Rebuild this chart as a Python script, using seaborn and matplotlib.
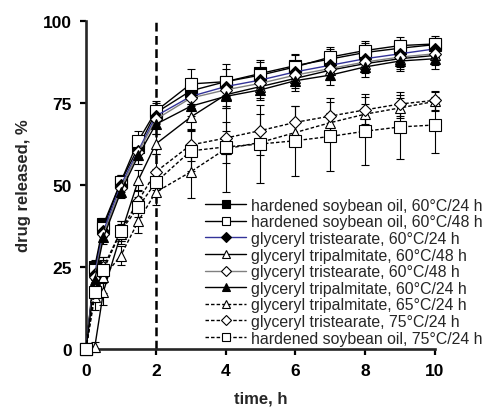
"""Drug release profiles of lipid matrices cured at different temperatures/times."""

import matplotlib
matplotlib.use("Agg")
import matplotlib.pyplot as plt
import numpy as np
import pandas as pd
import seaborn as sns

# ── data ──────────────────────────────────────────────────────────────────
time_h = [0, 0.25, 0.5, 1, 1.5, 2, 3, 4, 5, 6, 7, 8, 9, 10]

labels = [
    "hardened soybean oil, 60°C/24 h",
    "hardened soybean oil, 60°C/48 h",
    "glyceryl tristearate, 60°C/24 h",
    "glyceryl tripalmitate, 60°C/48 h",
    "glyceryl tristearate, 60°C/48 h",
    "glyceryl tripalmitate, 60°C/24 h",
    "glyceryl tripalmitate, 65°C/24 h",
    "glyceryl tristearate, 75°C/24 h",
    "hardened soybean oil, 75°C/24 h",
]

hso_60_24 = [0, 25, 38, 51, 61.5, 72, 78.7, 81.5, 84, 86.4, 88.4, 90.4, 91.7, 92.8]
hso_60_48 = [0, 24, 37, 51, 63.5, 72.5, 80.8, 81.5, 83.5, 86, 89, 91, 92.5, 93]
gts_60_24 = [0, 23, 36, 50, 60.5, 71, 77, 80, 82, 84.5, 86.5, 88.5, 90, 91.5]
gtp_60_48 = [0, 0.5, 17.5, 35, 51.5, 62.5, 70.7, 77.5, 80, 82.5, 85, 87, 88.5, 89.5]
gts_60_48 = [0, 22, 35, 49, 60, 70, 76.5, 79, 81, 83.5, 85.5, 87.5, 89, 90]
gtp_60_24 = [0, 21, 34, 48, 59, 68.5, 74, 77, 79, 81.8, 83.5, 86, 87.8, 88.5]
gtp_65_24 = [0, 16, 22, 28.5, 39, 47.8, 54, 61, 63, 66, 69, 71.6, 73.5, 75.5]
gts_75_24 = [0, 18, 25, 36, 45.2, 54, 62.2, 64.3, 66.6, 69.1, 71, 72.9, 74.7, 75.8]
hso_75_24 = [0, 17.5, 24, 36, 43.3, 50.8, 60.4, 61.6, 62.5, 63.5, 64.8, 66.4, 67.7, 68.3]

sd_hso_60_24 = [0, 2, 2, 2, 3, 3, 4, 5.5, 4, 3.5, 3, 3, 2.5, 2]
sd_hso_60_48 = [0, 2, 2, 2, 3, 3, 4.6, 4, 4, 3.5, 3, 3, 2.5, 2.5]
sd_gts_60_24 = [0, 2, 2, 2, 2.5, 2.5, 3, 3, 3, 3, 3, 3, 2.5, 2.5]
sd_gtp_60_48 = [0, 1.5, 4, 3, 3, 3, 4, 4, 3.5, 3, 3, 3, 3, 3]
sd_gts_60_48 = [0, 2, 2, 2, 2.5, 2.5, 3, 3, 3, 3, 3, 3, 3, 3]
sd_gtp_60_24 = [0, 2, 2, 2, 2.5, 3, 3, 3.5, 3, 3, 3, 3, 3, 3]
sd_gtp_65_24 = [0, 4, 5, 3, 3.5, 4, 8, 13, 4, 3.5, 3, 3, 3, 3]
sd_gts_75_24 = [0, 3, 3, 3, 3, 5.5, 5, 5, 5, 5, 5.4, 4.8, 3.7, 3]
sd_hso_75_24 = [0, 3, 4, 3, 3, 4, 6, 5, 12, 10.7, 10.4, 10.4, 9.7, 8.5]

values = [hso_60_24, hso_60_48, gts_60_24, gtp_60_48, gts_60_48,
          gtp_60_24, gtp_65_24, gts_75_24, hso_75_24]
errors = [sd_hso_60_24, sd_hso_60_48, sd_gts_60_24, sd_gtp_60_48, sd_gts_60_48,
          sd_gtp_60_24, sd_gtp_65_24, sd_gts_75_24, sd_hso_75_24]

# style per series: (line colour, marker, filled, linestyle)
styles = [
    ("black", "s", True, "-"),
    ("black", "s", False, "-"),
    ("#333399", "D", True, "-"),
    ("black", "^", False, "-"),
    ("#808080", "D", False, "-"),
    ("black", "^", True, "-"),
    ("black", "^", False, (0, (2.5, 1.5))),
    ("black", "D", False, (0, (2.5, 1.5))),
    ("black", "s", False, (0, (2.5, 1.5))),
]
marker_sizes = {"s": 8, "^": 7.5, "D": 6}

sns.set_theme(style="ticks")
plt.rcParams.update({
    "font.family": ["Liberation Sans", "DejaVu Sans"],
    "axes.linewidth": 1.9,
    "xtick.major.width": 1.6,
    "ytick.major.width": 1.6,
    "xtick.major.size": 4,
    "ytick.major.size": 4,
    "xtick.color": "black",
    "ytick.color": "black",
})

fig = plt.figure(figsize=(4.85, 4.14), dpi=100)
ax = fig.add_axes([0.1773, 0.1546, 0.7196, 0.7923])

ax.axvline(2, color="black", linestyle=(0, (3.5, 1.8)), linewidth=1.8, zorder=1)

for lab, vals, err, (col, mk, filled, ls) in zip(labels, values, errors, styles):
    df = pd.DataFrame({"time": time_h, "release": vals})
    ax.errorbar(df["time"], df["release"], yerr=err, fmt="none", ecolor="black",
                elinewidth=0.8, capsize=3, capthick=0.8, zorder=2, clip_on=False)
    sns.lineplot(data=df, x="time", y="release", ax=ax, color=col, label=lab,
                 marker=mk, markersize=marker_sizes[mk],
                 markerfacecolor="black" if filled else "white",
                 markeredgecolor="black", markeredgewidth=0.8,
                 linestyle=ls, linewidth=1.0, zorder=3, clip_on=False)

ax.set_xlim(0, 10)
ax.set_ylim(0, 100)
ax.set_xticks(np.arange(0, 11, 2))
ax.set_yticks(np.arange(0, 101, 25))
sns.despine(ax=ax)
ax.tick_params(axis="both", labelsize=12.5, pad=6)
for t in ax.get_xticklabels() + ax.get_yticklabels():
    t.set_fontweight("bold")

ax.set_xlabel("time, h", fontsize=12, fontweight="bold", labelpad=9)
ax.set_ylabel("drug released, %", fontsize=12, fontweight="bold", labelpad=9)

handles, labs = ax.get_legend_handles_labels()
ax.legend(handles, labs, loc="lower left", bbox_to_anchor=(205 / 485, 0.163),
          bbox_transform=fig.transFigure, frameon=False, fontsize=11.4,
          borderpad=0, borderaxespad=0, labelspacing=0.1, markerscale=0.8,
          handlelength=2.6, handletextpad=0.3)

fig.savefig("out.png", dpi=100)
